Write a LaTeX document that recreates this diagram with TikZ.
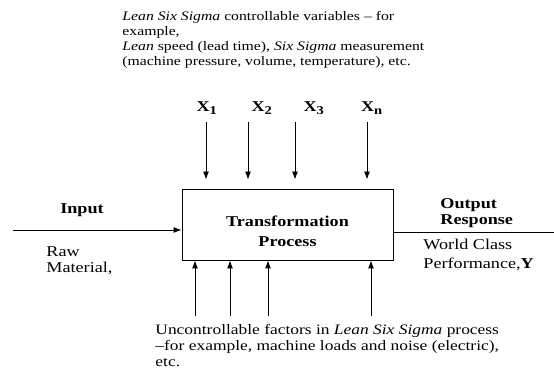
\documentclass[tikz,border=0pt]{standalone}
\usepackage{graphicx}
\usepackage{fontspec}
\setmainfont{Liberation Serif}
\usetikzlibrary{arrows.meta,calc,positioning}
% the reference text is set a little wide
\newcommand{\wide}[1]{\scalebox{1.21}[1]{#1}}

\begin{document}
\begin{tikzpicture}[x=1pt,y=-1pt,
  >={Latex[length=8pt,width=6pt]},
  every path/.style={line width=0.9pt},
  procbox/.style={draw, rectangle, minimum width=211pt, minimum height=71pt, inner sep=0pt},
  note/.style={inner sep=0pt, align=left, font=\fontsize{13}{15}\selectfont},
  side/.style={inner sep=0pt, align=left, font=\fontsize{15}{17}\selectfont},
  head/.style={inner sep=0pt, align=left, font=\fontsize{15}{16}\selectfont\bfseries}
]
  \useasboundingbox (0,0) rectangle (554,379);

  \node [note, anchor=north west] (ctrl) at (122,11) {
    \wide{\textit{Lean Six Sigma} controllable variables -- for}\\
    \wide{example,}\\
    \wide{\textit{Lean} speed (lead time), \textit{Six Sigma} measurement}\\
    \wide{(machine pressure, volume, temperature), etc.}};

  \node [procbox] (proc) at (287.5,224.5) {};
  \node [head, align=center, anchor=north, font=\fontsize{15}{20}\selectfont\bfseries] (title) at (287.5,215) {
    \wide{Transformation}\\
    \wide{Process}};

  % controllable inputs
  \foreach \x/\lx/\s [count=\i] in {206/207/1, 248/262/2, 295/314/3, 367/372/n} {
    \node [head, anchor=base] (x\i) at (\lx,112) {\wide{X\textsubscript{\large\s}}};
    \coordinate (c\i) at (\x,122);
    \draw [->, shorten >=9pt] (c\i) -- (c\i |- proc.north);
  }

  % uncontrollable factors
  \foreach \x [count=\i] in {195,230,268,371} {
    \coordinate (u\i) at (\x,316);
    \draw [->] (u\i) -- (u\i |- proc.south);
  }

  \node [note, anchor=north west, font=\fontsize{14.4}{16}\selectfont] (unctrl) at (155,324) {
    \wide{Uncontrollable factors in \textit{Lean Six Sigma} process}\\
    \wide{--for example, machine loads and noise (electric),}\\
    \wide{etc.}};

  % input side
  \coordinate (in) at (13,230);
  \draw [->] (in) -- (in -| proc.west);
  \node [head, anchor=base] (input) at (82,214) {\wide{Input}};
  \node [side, anchor=north west, font=\fontsize{15}{16}\selectfont] (raw) at (46,246) {
    \wide{Raw}\\
    \wide{Material,}};

  % output side
  \coordinate (out) at (554,232);
  \draw (proc.east |- out) -- (out);
  \node [head, anchor=north west] (output) at (440,198) {
    \wide{Output}\\
    \wide{Response}};
  \node [side, anchor=north west, font=\fontsize{15}{19}\selectfont] (world) at (423,239) {
    \wide{World Class}\\
    \wide{Performance,\textbf{Y}}};
\end{tikzpicture}
\end{document}
